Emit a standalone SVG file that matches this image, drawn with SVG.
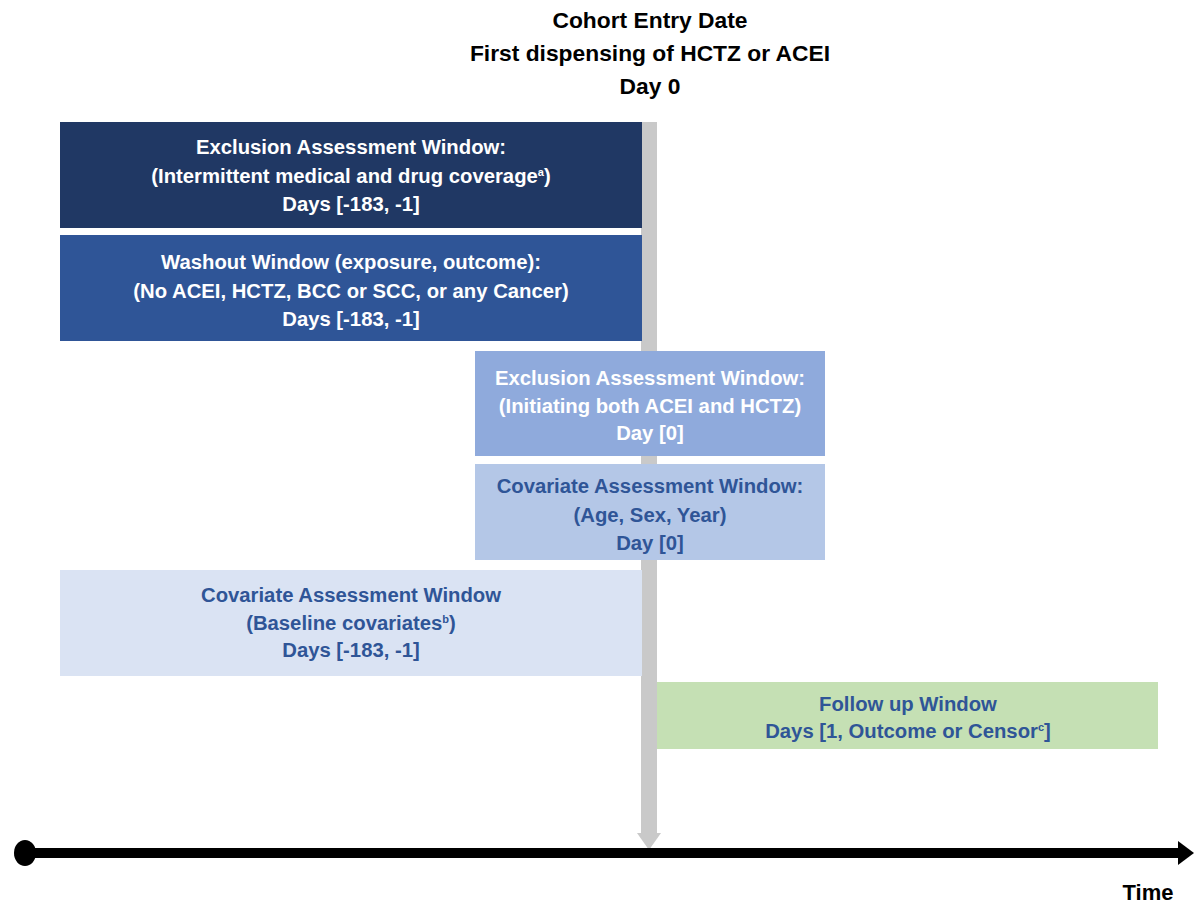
<svg xmlns="http://www.w3.org/2000/svg" width="1194" height="903" viewBox="0 0 1194 903">
<style>
text{font-family:"Liberation Sans",Arial,sans-serif;font-weight:bold;text-anchor:middle}
.t{font-size:22.8px;fill:#000}
.b{font-size:20.3px}
.w{fill:#ffffff}
.d{fill:#2F5597}
.sup{font-size:11px}
</style>
<rect width="1194" height="903" fill="#fff"/>
<g id="title">
<text class="t" x="650" y="28">Cohort Entry Date</text>
<text class="t" x="650" y="61">First dispensing of HCTZ or ACEI</text>
<text class="t" x="650" y="94">Day 0</text>
</g>
<g id="connectors">
<rect x="641" y="122" width="16" height="713" fill="#C9C9C9"/>
<path d="M637,833 L661,833 L649,850 z" fill="#C9C9C9"/>
<line x1="25" y1="853" x2="1180" y2="853" stroke="#000" stroke-width="10"/>
<path d="M1178,841 L1194,853 L1178,865 z" fill="#000"/>
<ellipse cx="25" cy="853" rx="11" ry="13" fill="#000"/>
</g>
<g id="box1">
<rect x="60" y="122" width="582" height="106" fill="#203864"/>
<text class="b w" x="351" y="154">Exclusion Assessment Window:</text>
<text class="b w" x="351" y="183">(Intermittent medical and drug coverage<tspan class="sup" dy="-7">a</tspan><tspan dy="7">)</tspan></text>
<text class="b w" x="351" y="211">Days [-183, -1]</text>
</g>
<g id="box2">
<rect x="60" y="235" width="582" height="106" fill="#2F5597"/>
<text class="b w" x="351" y="269">Washout Window (exposure, outcome):</text>
<text class="b w" x="351" y="298">(No ACEI, HCTZ, BCC or SCC, or any Cancer)</text>
<text class="b w" x="351" y="326">Days [-183, -1]</text>
</g>
<g id="box3">
<rect x="475" y="351" width="350" height="105" fill="#8FAADC"/>
<text class="b w" x="650" y="385">Exclusion Assessment Window:</text>
<text class="b w" x="650" y="413">(Initiating both ACEI and HCTZ)</text>
<text class="b w" x="650" y="440">Day [0]</text>
</g>
<g id="box4">
<rect x="475" y="464" width="350" height="96" fill="#B4C7E7"/>
<text class="b d" x="650" y="493">Covariate Assessment Window:</text>
<text class="b d" x="650" y="522">(Age, Sex, Year)</text>
<text class="b d" x="650" y="550">Day [0]</text>
</g>
<g id="box5">
<rect x="60" y="570" width="582" height="106" fill="#DAE3F3"/>
<text class="b d" x="351" y="602">Covariate Assessment Window</text>
<text class="b d" x="351" y="630">(Baseline covariates<tspan class="sup" dy="-7">b</tspan><tspan dy="7">)</tspan></text>
<text class="b d" x="351" y="657">Days [-183, -1]</text>
</g>
<g id="box6">
<rect x="657" y="682" width="501" height="67" fill="#C5E0B4"/>
<text class="b d" x="908" y="711">Follow up Window</text>
<text class="b d" x="908" y="738">Days [1, Outcome or Censor<tspan class="sup" dy="-7">c</tspan><tspan dy="7">]</tspan></text>
</g>
<g id="time">
<text x="1148" y="900" style="font-size:22px;fill:#000">Time</text>
</g>
</svg>
